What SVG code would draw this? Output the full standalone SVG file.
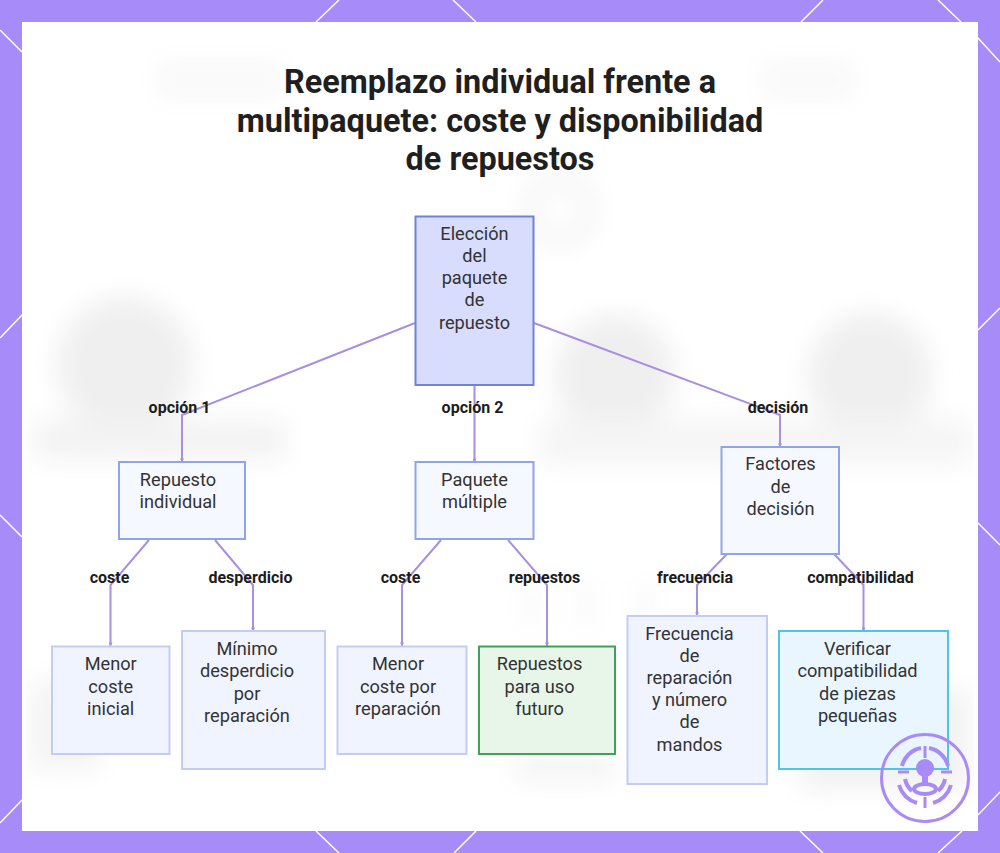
<svg xmlns="http://www.w3.org/2000/svg" width="1000" height="853" viewBox="0 0 1000 853">
<style>
text{font-family:Roboto,"Liberation Sans",sans-serif;text-anchor:middle}
.title{font-size:32.400px;font-weight:700;fill:#1f1f1f}
.n{font-size:18.2px;fill:#333}
.e{font-size:16px;font-weight:700;fill:#1c1c1c}
.b{fill:none;stroke:#fff;stroke-width:1.5}
.c{fill:none;stroke:#a78fe2;stroke-width:2;marker-end:url(#a)}
.r{stroke-width:2}
.i{fill:none;stroke:#a98bf6;stroke-width:3}
.i4{fill:none;stroke:#a98bf6;stroke-width:4}
</style>
<defs>
<filter id="bl" x="-30%" y="-30%" width="160%" height="160%"><feGaussianBlur stdDeviation="13"/></filter>
<clipPath id="pc"><rect x="26" y="26" width="948" height="800"/></clipPath>
<marker id="a" markerWidth="2" markerHeight="2" refX="1.8" refY="1" orient="auto"><path d="M0 0L2 1L0 2Z" fill="#a78fe2"/></marker>
</defs>
<rect width="1000" height="853" fill="#a78bf8"/>
<g id="border">
<path class="b" d="M0 30L22 52M316 22L339 0M453 0L476 22M801 22L823 0M938 0L961 22M978 38L1000 62M978 330L1000 308M22 315L0 338M0 515L22 537M22 800L0 823M316 831L339 853M476 831L454 853M800 831L823 853M962 831L938 853M978 523L1000 545M978 815L1000 792"/>
</g>
<rect id="panel" x="22" y="22" width="956" height="809" fill="#fff"/>
<g clip-path="url(#pc)">
<g id="backdrop" filter="url(#bl)" fill="#efefef">
<circle cx="125" cy="365" r="68"/><circle cx="615" cy="375" r="60"/><circle cx="870" cy="375" r="62"/>
<rect x="35" y="420" width="250" height="40" fill="#f3f3f3"/><rect x="540" y="420" width="430" height="45" fill="#f5f5f5"/>
<circle cx="560" cy="210" r="30" fill="none" stroke="#f3f3f3" stroke-width="14"/>
<rect x="155" y="60" width="130" height="40" fill="#f9f9f9"/><rect x="760" y="60" width="95" height="40" fill="#f9f9f9"/>
<rect x="30" y="680" width="70" height="90" fill="#f4f4f4"/><rect x="800" y="690" width="170" height="100" fill="#f2f2f2"/>
<rect x="515" y="755" width="100" height="25" fill="#f3f3f3"/>
<rect x="525" y="580" width="12" height="50" fill="#f7f7f7"/><rect x="580" y="580" width="12" height="50" fill="#f7f7f7"/><rect x="640" y="580" width="12" height="50" fill="#f7f7f7"/>
</g>
</g>
<g id="title">
<text class="title" x="500" y="93">Reemplazo individual frente a</text>
<text class="title" x="500" y="131.500">multipaquete: coste y disponibilidad</text>
<text class="title" x="500" y="170">de repuestos</text>
</g>
<g id="connectors">
<path class="c" d="M415 323L182 415V462"/>
<path class="c" d="M474.500 385V462"/>
<path class="c" d="M534 323L780 415V447"/>
<path class="c" d="M149 540L110.500 585V646"/>
<path class="c" d="M215 540L253 585V631"/>
<path class="c" d="M441 540L402 585V646"/>
<path class="c" d="M508 540L547 585V646"/>
<path class="c" d="M727 554L697 585V616"/>
<path class="c" d="M834 554L863.500 585V631"/>
</g>
<g id="edge-labels">
<text class="e" x="179.500" y="412.500">opción 1</text>
<text class="e" x="472.500" y="412.500">opción 2</text>
<text class="e" x="778" y="412.500">decisión</text>
<text class="e" x="109.500" y="582.500">coste</text>
<text class="e" x="250.500" y="582.500">desperdicio</text>
<text class="e" x="400.500" y="582.500">coste</text>
<text class="e" x="544.500" y="582.500">repuestos</text>
<text class="e" x="695" y="582.500">frecuencia</text>
<text class="e" x="860.500" y="582.500">compatibilidad</text>
</g>
<g id="n-root"><rect class="r" x="415.500" y="216.500" width="118" height="168.500" fill="#d8dcfd" stroke="#6f82d8"/>
<text class="n" x="474.500" y="240">Elección</text><text class="n" x="474.500" y="262">del</text><text class="n" x="474.500" y="284">paquete</text><text class="n" x="474.500" y="306">de</text><text class="n" x="474.500" y="328.500">repuesto</text></g>
<g id="n-individual"><rect class="r" x="119" y="462" width="126" height="77" fill="#f6f8ff" stroke="#8fa5e8"/>
<text class="n" x="178" y="485.500">Repuesto</text><text class="n" x="178" y="507.500">individual</text></g>
<g id="n-multiple"><rect class="r" x="415.500" y="462" width="118" height="77" fill="#f6f8ff" stroke="#8fa5e8"/>
<text class="n" x="474.500" y="485.500">Paquete</text><text class="n" x="474.500" y="507.500">múltiple</text></g>
<g id="n-factores"><rect class="r" x="721.500" y="447" width="117.500" height="107" fill="#f6f8ff" stroke="#8fa5e8"/>
<text class="n" x="780.500" y="470">Factores</text><text class="n" x="780.500" y="492.500">de</text><text class="n" x="780.500" y="514.500">decisión</text></g>
<g id="n-menor"><rect class="r" x="52" y="646.500" width="117.500" height="107.500" fill="#f0f4ff" stroke="#c3cdf3"/>
<text class="n" x="110.700" y="670">Menor</text><text class="n" x="110.700" y="692.500">coste</text><text class="n" x="110.700" y="714.500">inicial</text></g>
<g id="n-minimo"><rect class="r" x="182" y="631" width="143" height="138" fill="#f0f4ff" stroke="#c3cdf3"/>
<text class="n" x="247" y="655">Mínimo</text><text class="n" x="247" y="677">desperdicio</text><text class="n" x="247" y="699.500">por</text><text class="n" x="247" y="721.500">reparación</text></g>
<g id="n-menorrep"><rect class="r" x="337.500" y="646.500" width="129" height="107.500" fill="#f0f4ff" stroke="#c3cdf3"/>
<text class="n" x="398" y="670">Menor</text><text class="n" x="398" y="692.500">coste por</text><text class="n" x="398" y="714.500">reparación</text></g>
<g id="n-repuestos"><rect class="r" x="479" y="646.500" width="136" height="107.500" fill="#e8f5e9" stroke="#43a05a"/>
<text class="n" x="539.500" y="670">Repuestos</text><text class="n" x="539.500" y="692.500">para uso</text><text class="n" x="539.500" y="714.500">futuro</text></g>
<g id="n-frecuencia"><rect class="r" x="627.500" y="616" width="139.500" height="168" fill="#f0f4ff" stroke="#c3cdf3"/>
<text class="n" x="689.500" y="639.500">Frecuencia</text><text class="n" x="689.500" y="661.500">de</text><text class="n" x="689.500" y="684">reparación</text><text class="n" x="689.500" y="706">y número</text><text class="n" x="689.500" y="728">de</text><text class="n" x="689.500" y="750.500">mandos</text></g>
<g id="n-verificar"><rect class="r" x="779" y="631" width="169" height="138" fill="#eaf6ff" stroke="#4fc3e8"/>
<text class="n" x="857.500" y="655">Verificar</text><text class="n" x="857.500" y="677">compatibilidad</text><text class="n" x="857.500" y="699.500">de piezas</text><text class="n" x="857.500" y="721.500">pequeñas</text></g>
<g id="logo">
<circle class="i" cx="925" cy="778" r="43.500"/>
<path class="i4" d="M902 766A24 24 0 0 1 921 748M929 748A24 24 0 0 1 948 766M899 785A27 27 0 0 0 917 803M951 785A27 27 0 0 1 933 803"/>
<path class="i4" d="M905 779A21 21 0 0 0 912 791M945 779A21 21 0 0 1 938 791"/>
<path class="i" d="M925 746V758M925 797V808M898 772H909M941 772H952"/>
<circle cx="925" cy="768" r="9" fill="#a98bf6"/>
<path d="M922 776H928V786H922Z" fill="#a98bf6"/>
<ellipse class="i4" cx="925" cy="789" rx="11" ry="5"/>
</g>
</svg>
